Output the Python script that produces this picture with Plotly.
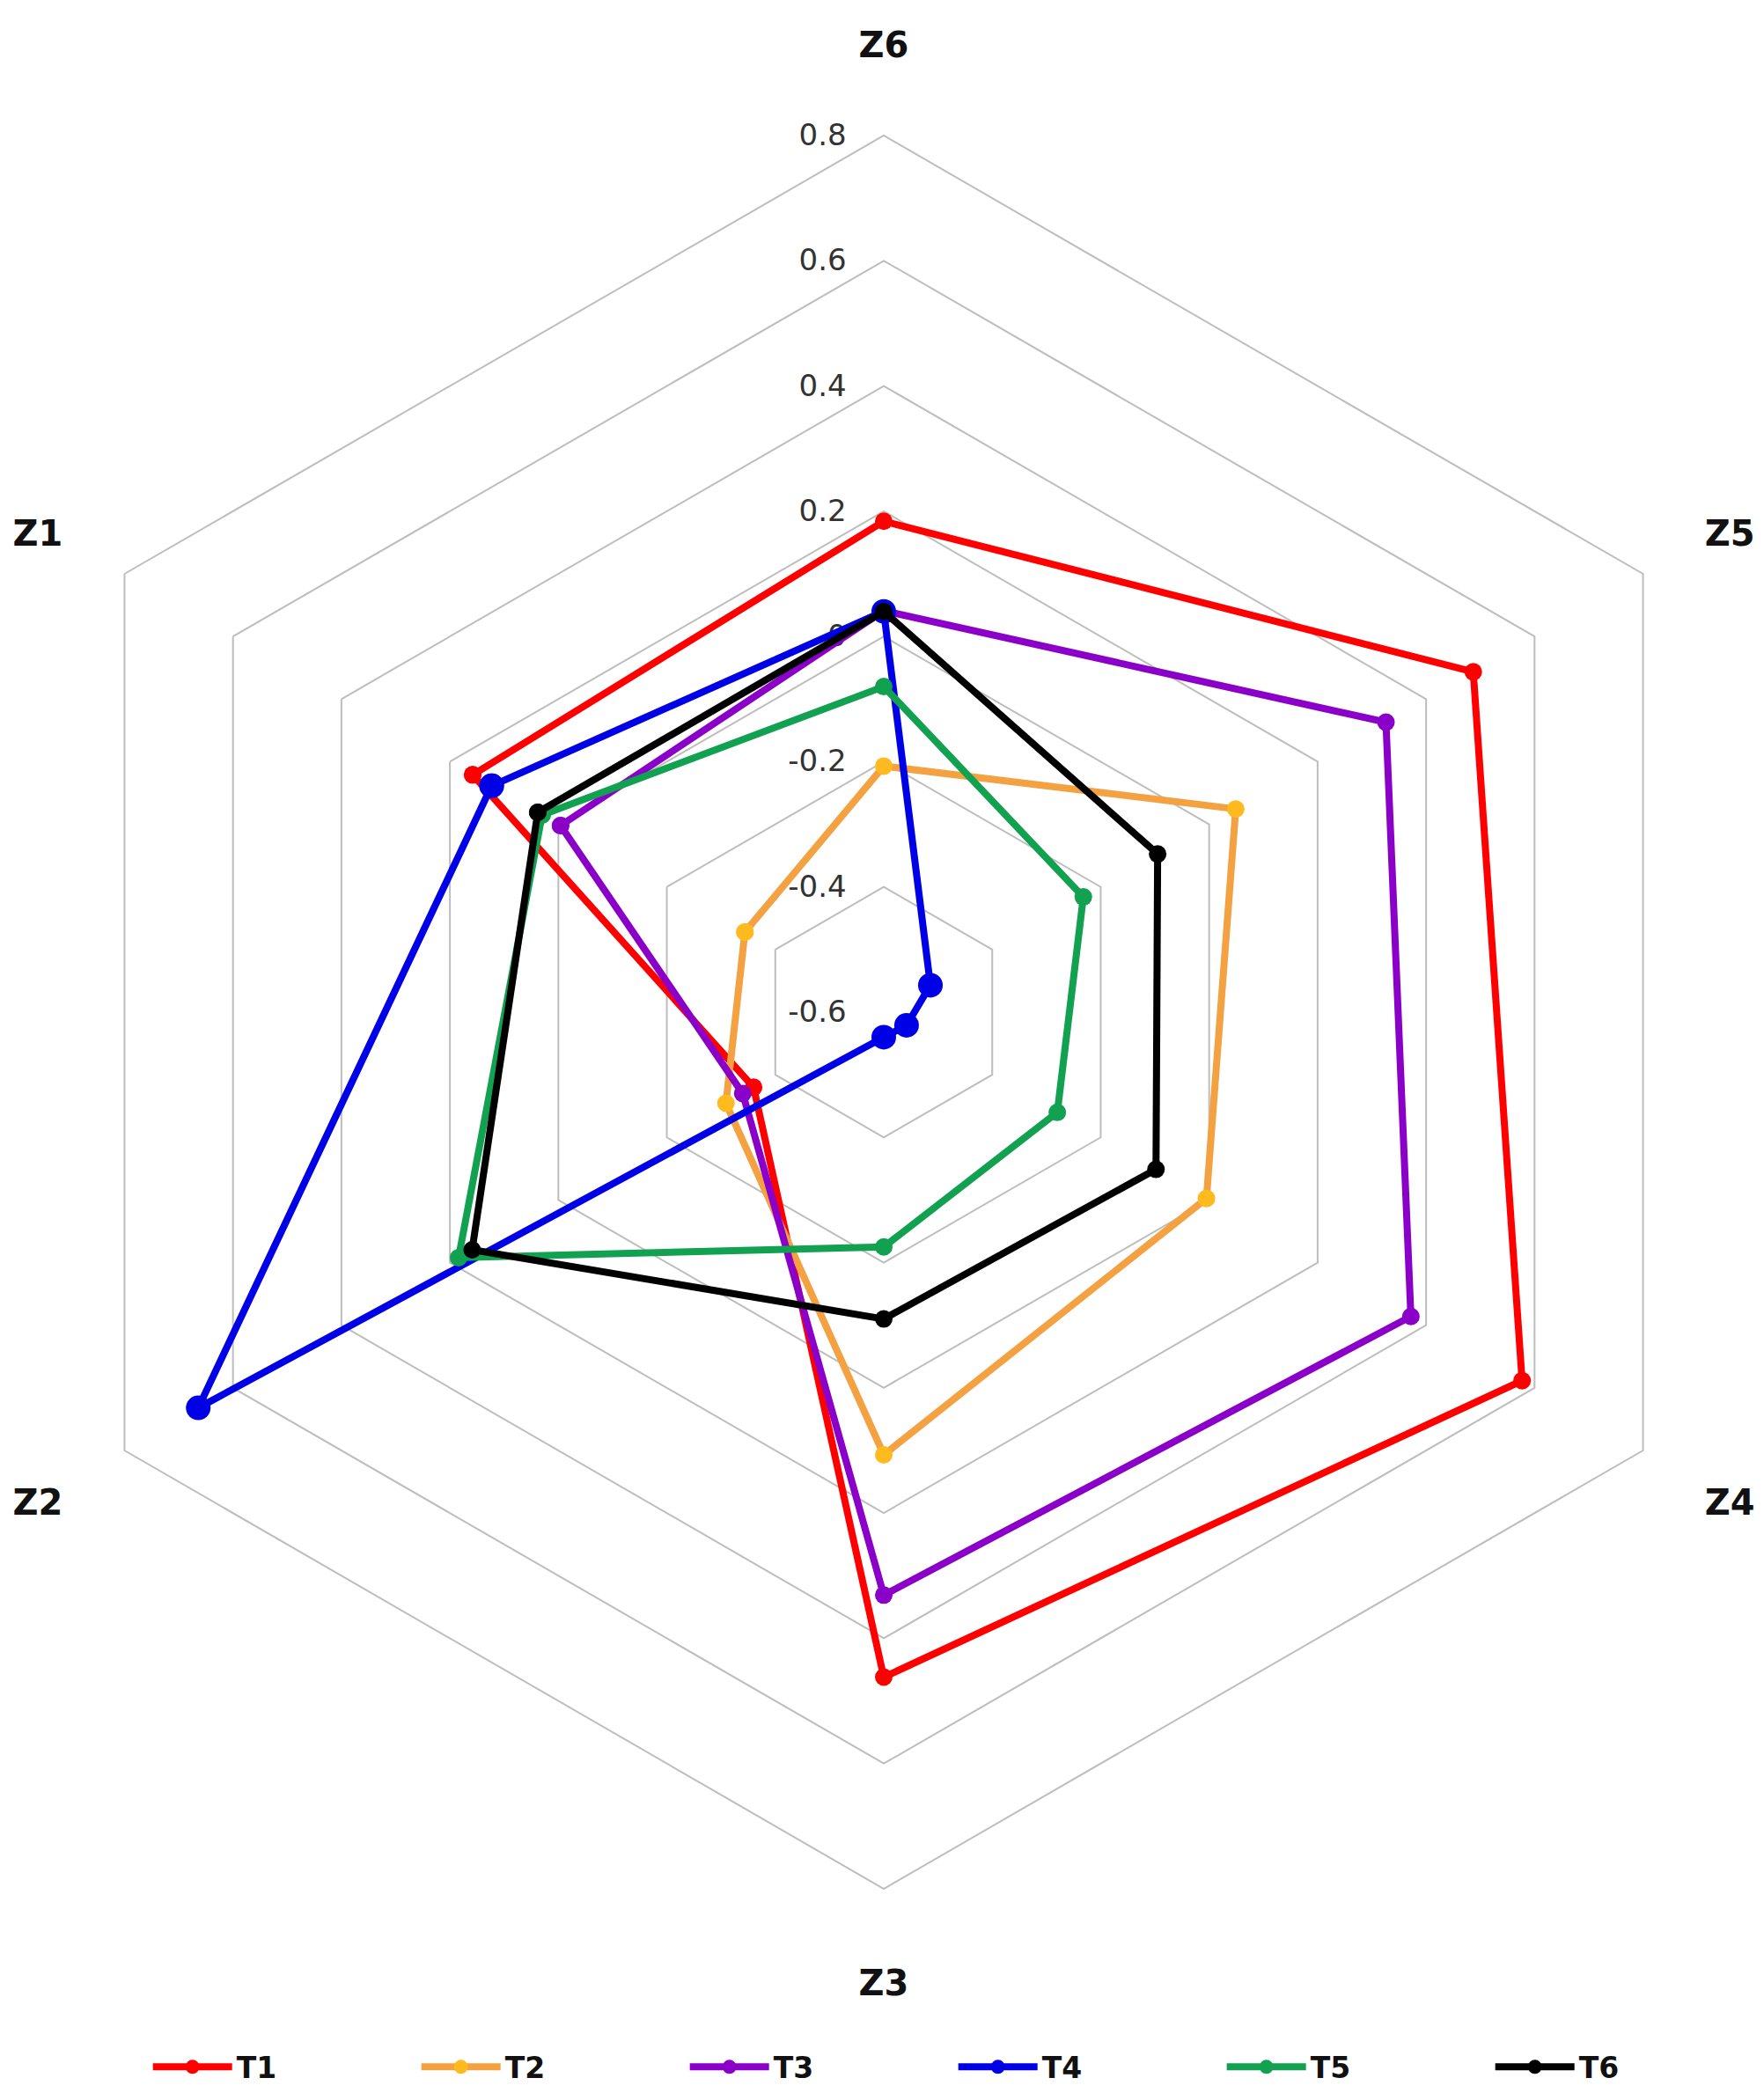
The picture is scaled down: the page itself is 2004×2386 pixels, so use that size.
import plotly.graph_objects as go

# axis categories (counter-clockwise from upper left)
zones = ["Z1", "Z2", "Z3", "Z4", "Z5", "Z6"]

# values per series, in zone order Z1..Z6
t1 = [0.158, -0.360, 0.462, 0.577, 0.487, 0.184]
t2 = [-0.344, -0.309, 0.107, -0.005, 0.049, -0.207]
t3 = [-0.004, -0.340, 0.331, 0.372, 0.326, 0.041]
t4 = [0.123, 0.664, -0.560, -0.558, -0.514, 0.040]
t5 = [0.030, 0.184, -0.225, -0.280, -0.232, -0.080]
t6 = [0.038, 0.159, -0.110, -0.098, -0.095, 0.040]

series_names = ["T1", "T2", "T3", "T4", "T5", "T6"]
radial_ticks = [-0.6, -0.4, -0.2, 0, 0.2, 0.4, 0.6, 0.8]

SERIES_STYLE = {
    "T1": dict(line="#FF0000", marker="#FF0000", size=20),
    "T2": dict(line="#F4A142", marker="#FFBA1F", size=20),
    "T3": dict(line="#8B00C9", marker="#8B00C9", size=20),
    "T4": dict(line="#0000E6", marker="#0000E6", size=28),
    "T5": dict(line="#12A150", marker="#12A150", size=20),
    "T6": dict(line="#000000", marker="#000000", size=20),
}

GRID = "#BDBDBD"

fig = go.Figure()
for name, vals in zip(series_names, [t1, t2, t3, t4, t5, t6]):
    st = SERIES_STYLE[name]
    # cliponaxis=True: with a negative radial minimum the default
    # (False) hides points inside the -0.6 polygon
    fig.add_trace(go.Scatterpolar(
        r=vals + vals[:1],
        theta=zones + zones[:1],
        name=name,
        mode="lines+markers",
        line=dict(color=st["line"], width=8),
        marker=dict(color=st["marker"], size=st["size"]),
        cliponaxis=True,
    ))

fig.update_layout(
    width=2004,
    height=2386,
    paper_bgcolor="white",
    plot_bgcolor="white",
    margin=dict(l=0, r=12, t=140, b=242),
    font=dict(family="DejaVu Sans", size=34, color="#222222"),
    polar=dict(
        bgcolor="white",
        gridshape="linear",
        domain=dict(x=[0, 1], y=[0, 1]),
        radialaxis=dict(
            range=[-0.6, 0.8],
            tickvals=radial_ticks,
            ticktext=[f"{v:g}" for v in radial_ticks],
            angle=90,
            tickangle=90,
            side="counterclockwise",
            showline=False,
            ticks="outside",
            ticklen=30,
            tickcolor="rgba(0,0,0,0)",
            tickfont=dict(size=34, color="#333333"),
            gridcolor=GRID,
            gridwidth=2,
            layer="below traces",
        ),
        angularaxis=dict(
            direction="counterclockwise",
            rotation=150,
            showgrid=False,
            showline=True,
            linecolor=GRID,
            linewidth=2,
            ticks="outside",
            ticklen=72,
            tickcolor="rgba(0,0,0,0)",
            tickfont=dict(size=40, color="#111111", family="DejaVu Sans", weight="bold"),
            layer="below traces",
        ),
    ),
    legend=dict(
        orientation="h",
        x=0.54,
        xanchor="center",
        y=-0.098,
        yanchor="middle",
        itemwidth=90,
        entrywidth=200,
        font=dict(size=33, color="#111111", weight="bold"),
    ),
)

fig.write_html("out.html")
